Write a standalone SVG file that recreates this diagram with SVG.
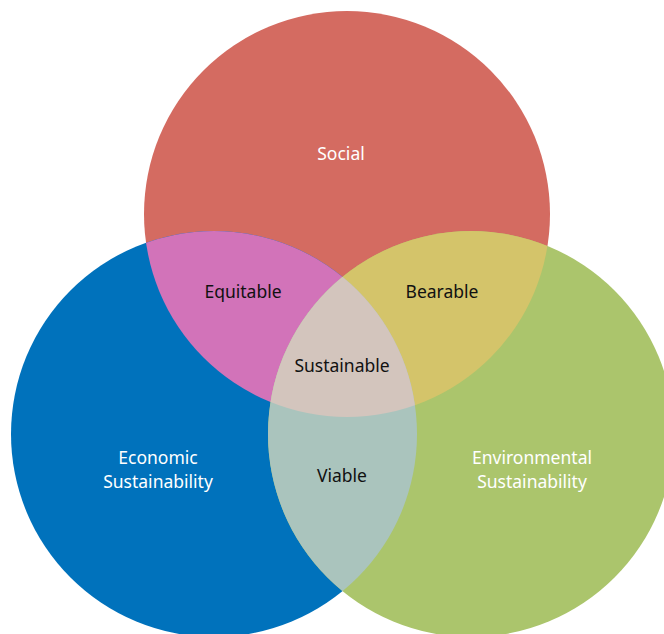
<svg xmlns="http://www.w3.org/2000/svg" width="664" height="634" viewBox="0 0 664 634">
<style>
.lbl{font-family:"Noto Sans","Open Sans","Liberation Sans",sans-serif;font-size:17.5px;text-anchor:middle}
.w{fill:#ffffff}
.k{fill:#111111}
</style>
<defs>
<clipPath id="cS"><circle cx="347" cy="214" r="203"/></clipPath>
<clipPath id="cE"><circle cx="214" cy="434" r="203"/></clipPath>
<clipPath id="cV"><circle cx="471" cy="434" r="203"/></clipPath>
</defs>
<rect width="664" height="634" fill="#ffffff"/>
<g id="social"><circle cx="347" cy="214" r="203" fill="#D46B61"/></g>
<g id="economic"><circle cx="214" cy="434" r="203" fill="#0072BC"/></g>
<g id="environmental"><circle cx="471" cy="434" r="203" fill="#ABC56C"/></g>
<g id="equitable"><g clip-path="url(#cS)"><circle cx="214" cy="434" r="203" fill="#D273B9"/></g></g>
<g id="bearable"><g clip-path="url(#cS)"><circle cx="471" cy="434" r="203" fill="#D4C46A"/></g></g>
<g id="viable"><g clip-path="url(#cE)"><circle cx="471" cy="434" r="203" fill="#AAC4BD"/></g></g>
<g id="sustainable"><g clip-path="url(#cS)"><g clip-path="url(#cE)"><circle cx="471" cy="434" r="203" fill="#D3C5BD"/></g></g></g>
<g id="labels">
<text class="lbl w" x="341" y="160">Social</text>
<text class="lbl k" x="243" y="298">Equitable</text>
<text class="lbl k" x="442" y="298">Bearable</text>
<text class="lbl k" x="342" y="372">Sustainable</text>
<text class="lbl k" x="342" y="482">Viable</text>
<text class="lbl w" x="158" y="464">Economic</text>
<text class="lbl w" x="158" y="488">Sustainability</text>
<text class="lbl w" x="532" y="464">Environmental</text>
<text class="lbl w" x="532" y="488">Sustainability</text>
</g>
</svg>
